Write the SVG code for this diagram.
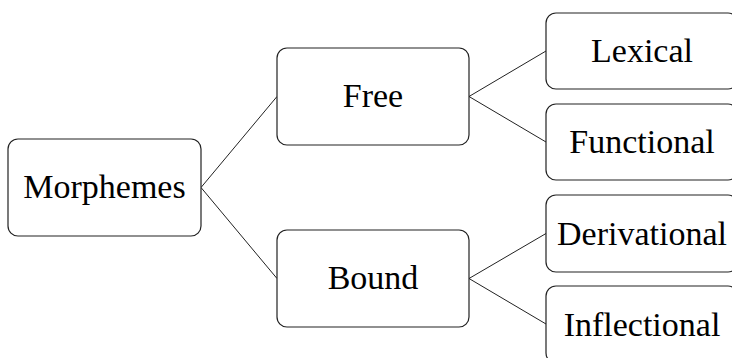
<svg xmlns="http://www.w3.org/2000/svg" width="732" height="358" viewBox="0 0 732 358">
<style>
.box{fill:#fff;stroke:#222;stroke-width:1.2}
.lbl{font-family:"Liberation Serif","Times New Roman",serif;font-size:34px;fill:#000;text-anchor:middle}
.con{stroke:#222;stroke-width:1;fill:none}
</style>
<rect width="732" height="358" fill="#fff"/>
<g id="connectors">
<line class="con" x1="201" y1="187.5" x2="277" y2="96.5"/>
<line class="con" x1="201" y1="187.5" x2="277" y2="278.5"/>
<line class="con" x1="469" y1="96.5" x2="546" y2="51"/>
<line class="con" x1="469" y1="96.5" x2="546" y2="142"/>
<line class="con" x1="469" y1="278.5" x2="546" y2="233.5"/>
<line class="con" x1="469" y1="278.5" x2="546" y2="324"/>
</g>
<g id="morphemes"><rect class="box" x="8" y="139" width="193" height="97" rx="10"/><text class="lbl" x="104.5" y="198">Morphemes</text></g>
<g id="free"><rect class="box" x="277" y="48" width="192" height="97" rx="10"/><text class="lbl" x="373" y="107">Free</text></g>
<g id="bound"><rect class="box" x="277" y="230" width="192" height="97" rx="10"/><text class="lbl" x="373" y="289">Bound</text></g>
<g id="lexical"><rect class="box" x="546" y="13" width="192" height="76" rx="10"/><text class="lbl" x="642" y="62">Lexical</text></g>
<g id="functional"><rect class="box" x="546" y="104" width="192" height="76" rx="10"/><text class="lbl" x="642" y="153">Functional</text></g>
<g id="derivational"><rect class="box" x="546" y="195" width="192" height="77" rx="10"/><text class="lbl" x="642" y="245">Derivational</text></g>
<g id="inflectional"><rect class="box" x="546" y="286" width="192" height="77" rx="10"/><text class="lbl" x="642" y="336">Inflectional</text></g>
</svg>
